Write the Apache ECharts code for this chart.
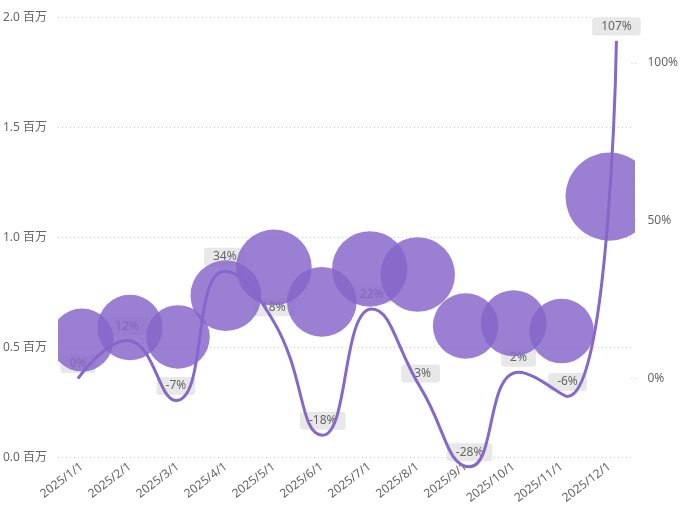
<!DOCTYPE html>
<html>
<head>
<meta charset="utf-8">
<script src="https://cdn.jsdelivr.net/npm/echarts@6/dist/echarts.min.js"></script>
<style>
html,body{margin:0;padding:0;background:#fff;}
#chart{width:681px;height:510px;}
</style>
</head>
<body>
<div id="chart"></div>
<script>
var months = ['2025/1/1','2025/2/1','2025/3/1','2025/4/1','2025/5/1','2025/6/1','2025/7/1','2025/8/1','2025/9/1','2025/10/1','2025/11/1','2025/12/1'];
var amount = [533000, 590000, 547000, 735000, 863000, 707000, 856000, 831000, 597000, 609000, 574000, 1185000];
var growth = [0, 12, -7, 34, 18, -18, 22, -3, -28, 2, -5.7, 107];
var leftTicks = [0, 500000, 1000000, 1500000, 2000000];
var rightTicks = [0, 50, 100];

var font = "'Segoe UI','Noto Sans','Noto Sans CJK SC',sans-serif";
var bubbleData = amount.map(function (v, i) { return [i, v]; });
var chart = echarts.init(document.getElementById('chart'));
chart.setOption({
  animation: false,
  textStyle: {fontFamily: font},
  grid: [
    {left: 56.5, right: 47.5, top: 17.3, bottom: 52.7},
    {left: 78, right: 63, top: 17.3, bottom: 52.7}
  ],
  xAxis: [
    {type: 'category', gridIndex: 0, data: months, boundaryGap: true,
     axisLine: {show: false}, axisTick: {show: false},
     axisLabel: {rotate: 37, color: '#666', fontSize: 12, margin: 8, interval: 0, fontFamily: font}},
    {type: 'category', gridIndex: 1, data: months, boundaryGap: false, show: false}
  ],
  yAxis: [
    {type: 'value', gridIndex: 0, min: leftTicks[0], max: leftTicks[leftTicks.length-1], interval: 500000,
     axisLine: {show: false}, axisTick: {show: false},
     axisLabel: {color: '#666', fontSize: 12, margin: 11, fontFamily: font,
       formatter: function (v) { return (v / 1e6).toFixed(1) + ' 百万'; }},
     splitLine: {show: true, lineStyle: {color: '#c8c8c8', type: [1, 3], width: 1}}},
    {type: 'value', gridIndex: 1, position: 'right', offset: 15, min: -25, max: 114.5,
     axisLine: {show: false},
     axisTick: {show: true, length: 6, customValues: rightTicks, lineStyle: {color: '#c8c8c8', type: [1, 3]}},
     axisLabel: {color: '#666', fontSize: 12, margin: 16, customValues: rightTicks, fontFamily: font,
       formatter: function (v) { return v + '%'; }},
     splitLine: {show: false}}
  ],
  series: [
    {type: 'line', xAxisIndex: 1, yAxisIndex: 1, data: growth, smooth: 0.5, z: 1, clip: false,
     symbol: 'circle', symbolSize: 1, showSymbol: true, silent: true,
     itemStyle: {color: '#8767ca'},
     lineStyle: {color: '#8767ca', width: 3, opacity: 0},
     label: {show: true, position: 'top', distance: 5, color: '#666', fontSize: 12, fontFamily: font,
       backgroundColor: '#e8e8e8', borderRadius: 3, padding: [3, 9, 3, 9],
       formatter: function (p) { return Math.round(p.value) + '%'; }}},
    {type: 'line', xAxisIndex: 1, yAxisIndex: 1, data: growth, smooth: 0.5, z: 2, clip: false,
     symbol: 'none',
     lineStyle: {color: '#8767ca', width: 3}},
    {type: 'custom', xAxisIndex: 0, yAxisIndex: 0, data: bubbleData, z: 3, clip: true,
     renderItem: function (params, api) {
       var v = api.value(1);
       var pt = api.coord([api.value(0), v]);
       return {type: 'circle', shape: {cx: pt[0], cy: pt[1], r: 21.3 + 19.2 * v / 1e6},
               style: {fill: '#8767ca', opacity: 0.84}};
     }}
  ]
});
</script>
</body>
</html>
